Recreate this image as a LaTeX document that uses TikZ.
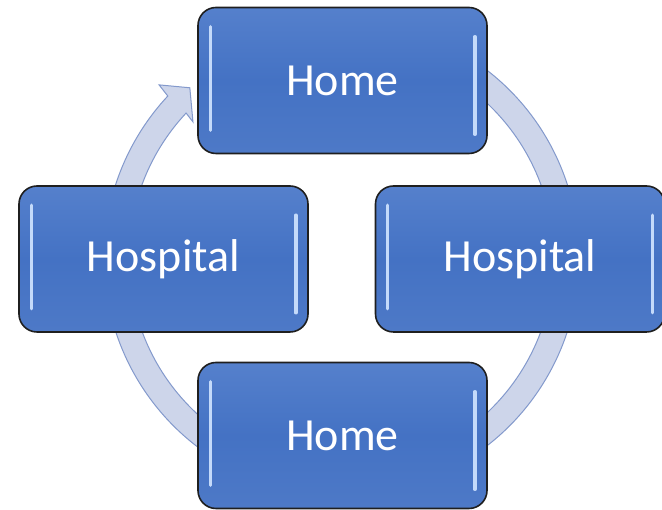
\documentclass[tikz,border=0pt]{standalone}
\usepackage{fontspec}
\setmainfont{Carlito}
\usetikzlibrary{calc}
\definecolor{boxblue}{HTML}{4472C4}
\definecolor{boxtop}{HTML}{5580CC}
\definecolor{ringfill}{HTML}{CDD5EA}
\definecolor{ringline}{HTML}{8399CC}
\definecolor{glint}{HTML}{C4DAFA}
\begin{document}
\begin{tikzpicture}[x=1pt,y=1pt,
  cyclebox/.style={draw=black!88, line width=1.6pt, rounded corners=18pt,
    top color=boxtop, bottom color=boxblue!95!white, middle color=boxblue,
    minimum width=289pt, minimum height=146pt,
    text=white, font=\fontsize{46}{50}\selectfont, inner sep=0pt},
  glintline/.style={draw=glint, line width=3.4pt, line cap=round}]
\useasboundingbox (0,0) rectangle (662,510);
\coordinate (c) at (341.5,252);
% ring arrow
\fill[ringfill, draw=ringline, line width=1pt]
  ($(c)+(60:237.5)$) arc[start angle=60, end angle=-223, radius=237.5]
  -- ($(c)+(-223.5:251.5)$)
  -- ($(c)+(-228.3:228)$)
  -- ($(c)+(-222.5:201.5)$)
  -- ($(c)+(-223:212.5)$)
  arc[start angle=-223, end angle=60, radius=212.5] -- cycle;
% boxes
\node[cyclebox] (home1) at (342.5,429.5) {Home};
\node[cyclebox] (hosp1) at (163.5,251) {Hospital};
\node[cyclebox] (hosp2) at (520,251) {Hospital};
\node[cyclebox] (home2) at (342.5,74.5) {Home};
\foreach \n in {home1,hosp1,hosp2,home2}{
  \draw[glintline] ($(\n.north west)+(13,-20)$) -- ($(\n.south west)+(13,24)$);
  \draw[glintline] ($(\n.north east)+(-13,-30)$) -- ($(\n.south east)+(-13,20)$);
}
\end{tikzpicture}
\end{document}
